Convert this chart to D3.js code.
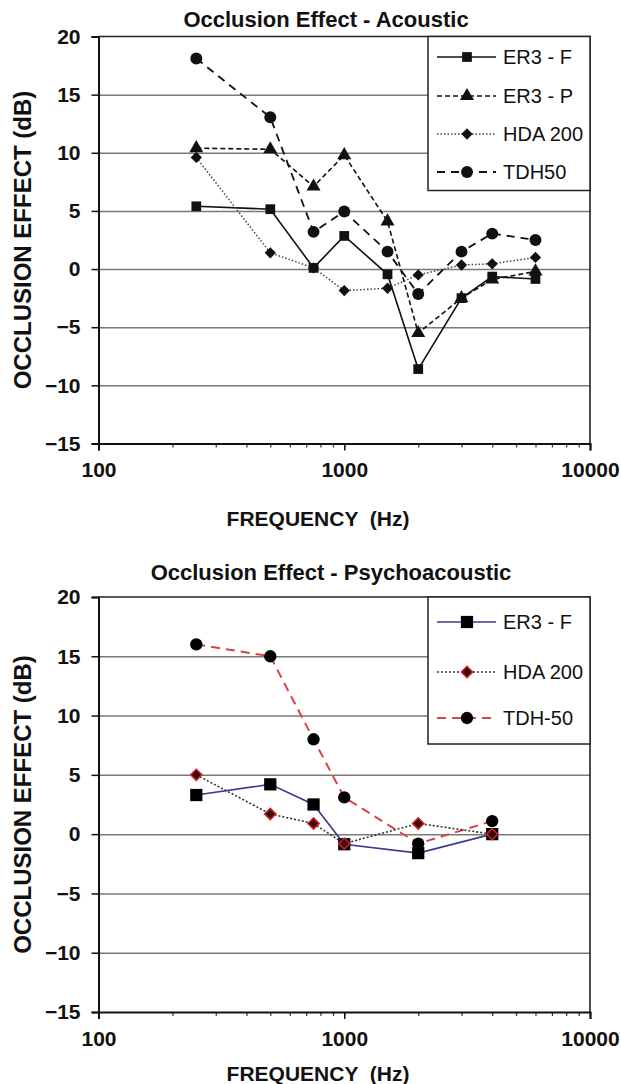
<!DOCTYPE html>
<html>
<head>
<meta charset="utf-8">
<script src="https://cdn.jsdelivr.net/npm/d3@7"></script>
<style>
  html, body { margin: 0; padding: 0; background: #fff; }
  svg { display: block; }
  text { font-family: "Liberation Sans", Arial, sans-serif; fill: #111; }
</style>
</head>
<body>
<svg id="chart" width="621" height="1084"></svg>
<script>
// top chart: acoustic measurement
const freqAcoustic = [250, 500, 750, 1000, 1500, 2000, 3000, 4000, 6000];
const er3fAcoustic = [5.4, 5.15, 0.1, 2.85, -0.45, -8.6, -2.5, -0.65, -0.85];
const er3pAcoustic = [10.4, 10.3, 7.1, 9.8, 4.1, -5.5, -2.5, -0.9, -0.2];
const hdaAcoustic = [9.6, 1.4, 0.1, -1.85, -1.65, -0.5, 0.35, 0.45, 1.0];
const tdhAcoustic = [18.1, 13.05, 3.2, 4.95, 1.5, -2.15, 1.5, 3.05, 2.5];

// bottom chart: psychoacoustic measurement
const freqPsycho = [250, 500, 750, 1000, 2000, 4000];
const er3fPsycho = [3.3, 4.2, 2.5, -0.85, -1.6, 0];
const hdaPsycho = [5.0, 1.7, 0.9, -0.8, 0.9, 0];
const tdhPsycho = [16.0, 15.0, 8.0, 3.1, -0.8, 1.1];

const yTicks = [-15, -10, -5, 0, 5, 10, 15, 20];
const xTickLabels = [100, 1000, 10000];

const svg = d3.select("#chart");

function drawChart(opts) {
  const left = 98.5, right = 590;
  const top = opts.top, bottom = opts.bottom;

  const x = d3.scaleLog().domain([100, 10000]).range([left, right]);
  const y = d3.scaleLinear().domain([-15, 20]).range([bottom, top]);

  const g = svg.append("g");

  // title
  g.append("text")
    .attr("x", opts.titleX)
    .attr("y", opts.titleY)
    .attr("text-anchor", "middle")
    .style("font-size", "22px")
    .style("font-weight", "bold")
    .text(opts.title);

  // gridlines
  g.append("g")
    .attr("transform", "translate(" + left + ",0)")
    .call(d3.axisLeft(y).tickValues(yTicks.filter(d => d > -15 && d < 20))
      .tickSize(-(right - left)).tickFormat(""))
    .call(a => a.select(".domain").remove())
    .selectAll("line")
    .attr("stroke", "#7a7a7a")
    .attr("stroke-width", 1.5);

  // frame (top and right)
  g.append("path")
    .attr("d", "M" + left + "," + top + "H" + right + "V" + bottom)
    .attr("fill", "none")
    .attr("stroke", "#222")
    .attr("stroke-width", 1.6);

  // y axis
  const ya = g.append("g")
    .attr("transform", "translate(" + left + ",0)")
    .call(d3.axisLeft(y).tickValues(yTicks).tickSize(7).tickPadding(11).tickFormat(d3.format("d")));
  ya.select(".domain").attr("stroke", "#111").attr("stroke-width", 2);
  ya.selectAll("line").attr("stroke", "#111").attr("stroke-width", 1.5);
  ya.selectAll("text")
    .style("font-size", "21px").style("font-weight", "bold")
    .style("font-family", "Liberation Sans, Arial, sans-serif").attr("fill", "#111");

  // x axis minor ticks
  g.append("g")
    .attr("transform", "translate(0," + bottom + ")")
    .call(d3.axisBottom(x).ticks(10).tickSize(4).tickFormat(""))
    .call(a => a.select(".domain").remove())
    .selectAll("line").attr("stroke", "#333").attr("stroke-width", 1.2);

  // x axis major ticks and labels
  const xa = g.append("g")
    .attr("transform", "translate(0," + bottom + ")")
    .call(d3.axisBottom(x).tickValues(xTickLabels).tickSize(7).tickPadding(12).tickFormat(d3.format("d")));
  xa.select(".domain").attr("stroke", "#111").attr("stroke-width", 2);
  xa.selectAll("line").attr("stroke", "#111").attr("stroke-width", 1.5);
  xa.selectAll("text")
    .style("font-size", "21px").style("font-weight", "bold")
    .style("font-family", "Liberation Sans, Arial, sans-serif").attr("fill", "#111");

  // axis titles
  g.append("text")
    .attr("x", 318)
    .attr("y", opts.xTitleY)
    .attr("text-anchor", "middle")
    .style("font-size", "21px")
    .style("font-weight", "bold")
    .style("white-space", "pre")
    .text("FREQUENCY  (Hz)");

  g.append("text")
    .attr("transform", "translate(31," + ((top + bottom) / 2) + ") rotate(-90)")
    .attr("text-anchor", "middle")
    .style("font-size", "24px")
    .style("font-weight", "bold")
    .text("OCCLUSION EFFECT (dB)");

  // series
  opts.series.forEach(s => {
    const pts = s.values.map((v, i) => [opts.freq[i], v]);
    const line = d3.line().x(d => x(d[0])).y(d => y(d[1]));
    g.append("path")
      .datum(pts)
      .attr("d", line)
      .attr("fill", "none")
      .attr("stroke", s.color)
      .attr("stroke-width", s.width)
      .attr("stroke-dasharray", s.dash);
    g.selectAll(null)
      .data(pts)
      .join("path")
      .attr("transform", d => "translate(" + x(d[0]) + "," + y(d[1]) + ")" + (s.rotate ? " rotate(45)" : ""))
      .attr("d", d3.symbol().type(s.symbol).size(s.size))
      .attr("fill", s.fill)
      .attr("stroke", s.stroke || "none")
      .attr("stroke-width", s.stroke ? 1.5 : 0);
  });

  // legend (its own order, not the draw order)
  const lg = g.append("g");
  lg.append("rect")
    .attr("x", 428).attr("y", top)
    .attr("width", right - 428).attr("height", opts.legendH)
    .attr("fill", "#fff")
    .attr("stroke", "#222").attr("stroke-width", 1.5);
  opts.legendOrder.forEach((k, i) => {
    const s = opts.series[k];
    const ly = opts.legendY[i];
    lg.append("line")
      .attr("x1", 437).attr("x2", 496).attr("y1", ly).attr("y2", ly)
      .attr("stroke", s.color).attr("stroke-width", s.width)
      .attr("stroke-dasharray", s.dash);
    lg.append("path")
      .attr("transform", "translate(467," + ly + ")" + (s.rotate ? " rotate(45)" : ""))
      .attr("d", d3.symbol().type(s.symbol).size(s.size))
      .attr("fill", s.fill)
      .attr("stroke", s.stroke || "none")
      .attr("stroke-width", s.stroke ? 1.5 : 0);
    lg.append("text")
      .attr("x", 503).attr("y", ly + 7)
      .style("font-size", "20px")
      .text(s.name);
  });
}

drawChart({
  title: "Occlusion Effect - Acoustic",
  titleX: 326, titleY: 27,
  top: 36.5, bottom: 443.5,
  xTitleY: 526,
  freq: freqAcoustic,
  legendH: 154, legendY: [57, 96, 134, 172],
  legendOrder: [0, 1, 2, 3],
  series: [
    { name: "ER3 - F", values: er3fAcoustic, color: "#111", width: 1.6, dash: null, symbol: d3.symbolSquare, size: 95, fill: "#111" },
    { name: "ER3 - P", values: er3pAcoustic, color: "#111", width: 1.6, dash: "5,3", symbol: d3.symbolTriangle, size: 85, fill: "#111" },
    { name: "HDA 200", values: hdaAcoustic, color: "#444", width: 1.5, dash: "1.5,2", symbol: d3.symbolSquare, size: 64, fill: "#111", rotate: true },
    { name: "TDH50", values: tdhAcoustic, color: "#111", width: 1.8, dash: "8,6", symbol: d3.symbolCircle, size: 112, fill: "#111" }
  ]
});

drawChart({
  title: "Occlusion Effect - Psychoacoustic",
  titleX: 331, titleY: 580,
  top: 597, bottom: 1012,
  xTitleY: 1081,
  freq: freqPsycho,
  legendH: 147, legendY: [622, 672, 718],
  legendOrder: [0, 2, 1],
  series: [
    { name: "ER3 - F", values: er3fPsycho, color: "#3b3b8f", width: 1.6, dash: null, symbol: d3.symbolSquare, size: 150, fill: "#000" },
    { name: "TDH-50", values: tdhPsycho, color: "#d8434b", width: 2, dash: "9,6", symbol: d3.symbolCircle, size: 120, fill: "#000" },
    { name: "HDA 200", values: hdaPsycho, color: "#333", width: 1.6, dash: "2,2", symbol: d3.symbolSquare, size: 64, fill: "#3a0a0a", stroke: "#d0202a", rotate: true }
  ]
});
</script>
</body>
</html>
